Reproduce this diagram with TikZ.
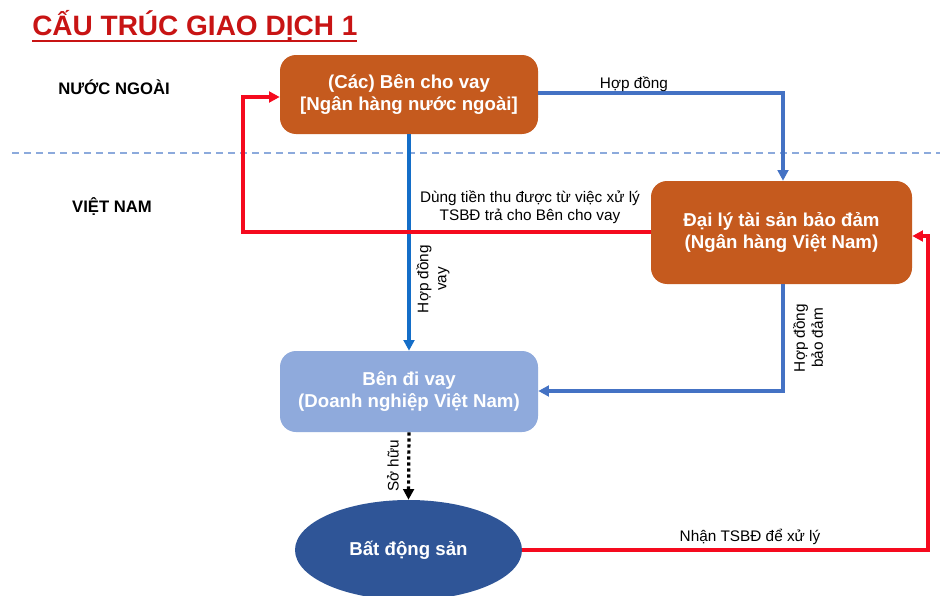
\documentclass[tikz,border=0pt]{standalone}
\usepackage{fontspec}
\setmainfont{Liberation Sans}
\usetikzlibrary{arrows.meta,shapes.geometric}
\definecolor{boxorange}{RGB}{197,90,30}
\definecolor{boxlight}{RGB}{143,170,220}
\definecolor{ellblue}{RGB}{47,85,151}
\definecolor{titlered}{RGB}{200,20,20}
\definecolor{lineblue}{RGB}{68,114,196}
\definecolor{darkblue}{RGB}{20,110,200}
\definecolor{linered}{RGB}{245,10,30}
\definecolor{dashblue}{RGB}{140,170,220}
\tikzset{
  box/.style={rounded corners=12, text=white, font=\bfseries\fontsize{14}{17}\selectfont, align=center, inner sep=0},
  lbl/.style={font=\fontsize{11.5}{13.5}\selectfont, align=center, inner sep=1},
  region/.style={font=\bfseries\fontsize{12.5}{15}\selectfont, inner sep=0},
  bl/.style={draw=lineblue, line width=2.3, -{Triangle[length=8,width=8]}},
  dbl/.style={draw=darkblue, line width=2.5, -{Triangle[length=8,width=8]}},
  rl/.style={draw=linered, line width=2.3, -{Triangle[length=8,width=8]}},
}
\begin{document}
\begin{tikzpicture}[x=0.75pt,y=-0.75pt]
\useasboundingbox[fill=white] (0,0) rectangle (940,596);
% title
\node[anchor=base west, inner sep=0, text=titlered, font=\bfseries\fontsize{21}{25}\selectfont] (title) at (32,36) {CẤU TRÚC GIAO DỊCH 1};
\draw[titlered, line width=2] (32,41) -- (357,41);
% region labels
\node[region] (nn) at (114,87) {NƯỚC NGOÀI};
\node[region] (vn) at (112,207) {VIỆT NAM};
\draw[dashblue, line width=1.2, dash pattern=on 5 off 4] (12,153) -- (940,153);
% boxes
\node[box, fill=boxorange, minimum width=258*0.75pt, minimum height=79*0.75pt] (lender) at (409,94.5) {(Các) Bên cho vay\\{}[Ngân hàng nước ngoài]};
\node[box, fill=boxorange, minimum width=261*0.75pt, minimum height=103*0.75pt] (agent) at (781.5,232.5) {Đại lý tài sản bảo đảm\\(Ngân hàng Việt Nam)};
\node[box, fill=boxlight, minimum width=258*0.75pt, minimum height=81*0.75pt] (borrower) at (409,391.5) {Bên đi vay\\(Doanh nghiệp Việt Nam)};
\node[ellipse, fill=ellblue, text=white, font=\bfseries\fontsize{14}{17}\selectfont, minimum width=227*0.75pt, minimum height=100*0.75pt, inner sep=0] (land) at (408.5,550) {Bất động sản};
% connectors
\coordinate (c1) at (783,93);
\draw[bl] (lender.east |- c1) -- (c1) -- (agent.north -| c1);
\node[lbl] (l1) at (634,84) {Hợp đồng};
\draw[dbl] (lender.south) -- (borrower.north);
\node[lbl, rotate=90] (l2) at (433,279) {Hợp đồng\\vay};
\coordinate (c2) at (783,391);
\draw[bl] (agent.south -| c2) -- (c2) -- (borrower.east |- c2);
\node[lbl, rotate=90] (l3) at (808,338) {Hợp đồng\\bảo đảm};
\coordinate (c3) at (243,232);
\coordinate (c4) at (243,97);
\draw[rl] (agent.west |- c3) -- (c3) -- (c4) -- (lender.west |- c4);
\node[lbl] (l4) at (530,207) {Dùng tiền thu được từ việc xử lý\\TSBĐ trả cho Bên cho vay};
\coordinate (c5) at (928,550);
\coordinate (c6) at (928,236);
\draw[rl] (land.east) -- (c5) -- (c6) -- (agent.east |- c6);
\node[lbl] (l5) at (750,537) {Nhận TSBĐ để xử lý};
\draw[black, line width=2.4, dash pattern=on 2.5 off 2, -{Triangle[length=8,width=8]}] (borrower.south) -- (land.north);
\node[lbl, rotate=90] (l6) at (393,466) {Sở hữu};
\end{tikzpicture}
\end{document}
